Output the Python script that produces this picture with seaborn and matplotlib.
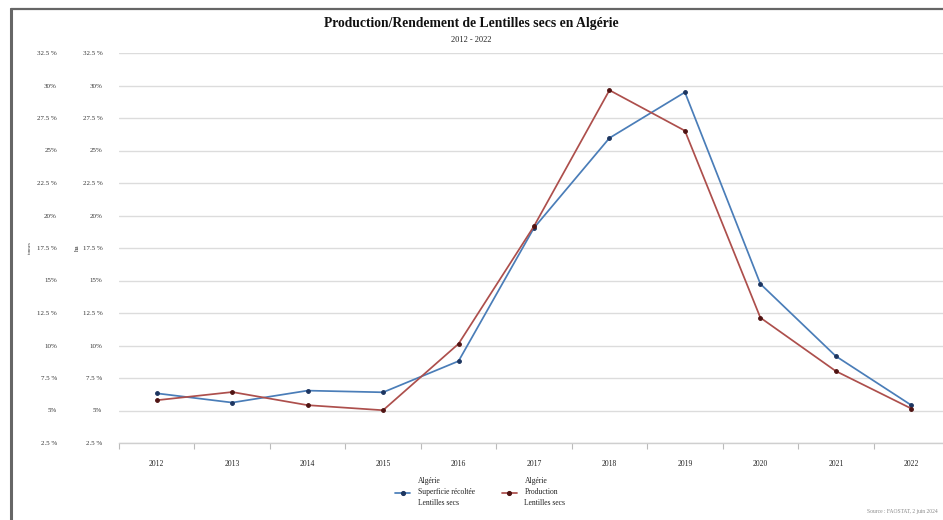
import matplotlib
matplotlib.use("Agg")
import matplotlib.pyplot as plt
from matplotlib.lines import Line2D
import seaborn as sns
import pandas as pd
import numpy as np

# Data
years = ["2012", "2013", "2014", "2015", "2016", "2017", "2018", "2019", "2020", "2021", "2022"]
superficie = [6.32, 5.61, 6.53, 6.40, 8.80, 19.05, 25.96, 29.48, 14.74, 9.18, 5.41]
production = [5.79, 6.42, 5.41, 5.02, 10.13, 19.18, 29.64, 26.52, 12.14, 8.03, 5.15]
y_ticks = [2.5, 5, 7.5, 10, 12.5, 15, 17.5, 20, 22.5, 25, 27.5, 30, 32.5]
series_names = ["Algérie\nSuperficie récoltée\nLentilles secs",
                "Algérie\nProduction\nLentilles secs"]

sns.set_theme(style="white")
plt.rcParams["font.family"] = ["Liberation Serif", "DejaVu Serif"]

df = pd.DataFrame({
    "pos": list(range(len(years))) * 2,
    "valeur": superficie + production,
    "serie": [series_names[0]] * len(years) + [series_names[1]] * len(years),
})

line_colors = ["#4a7db8", "#ad4f4c"]
dot_colors = ["#1c3560", "#4f1312"]

fig = plt.figure(figsize=(9.43, 5.20), dpi=100)
ax = fig.add_axes([119 / 943, 77 / 520, 830 / 943, 390 / 520])

sns.lineplot(data=df, x="pos", y="valeur", hue="serie", palette=line_colors,
             ax=ax, linewidth=1.25, legend=False, sort=False)

lines = ax.get_lines()
for ln, dc in zip(lines, dot_colors):
    ln.set_marker("o")
    ln.set_markersize(2.7)
    ln.set_markerfacecolor(dc)
    ln.set_markeredgecolor(dc)

# Axes limits and grid
ax.set_ylim(2.5, 32.5)
ax.set_xlim(-0.5, len(years) - 0.5)
ax.set_yticks(y_ticks)

def pct(v):
    return f"{v:g} %" if v != int(v) else f"{v:g}%"

ax.set_yticklabels([pct(v) for v in y_ticks])
ax.tick_params(axis="y", length=0, pad=12, labelsize=5, labelcolor="#333333")
ax.grid(axis="y", color="#dcdcdc", linewidth=1.0)
ax.set_axisbelow(True)

# Category ticks between years, labels at the centres
ax.set_xticks(np.arange(-0.5, len(years), 1.0))
ax.set_xticklabels([])
ax.set_xticks(range(len(years)), minor=True)
ax.set_xticklabels(years, minor=True)
ax.tick_params(axis="x", which="major", length=4, width=0.8, color="#bbbbbb", direction="out", bottom=True)
ax.tick_params(axis="x", which="minor", length=0, pad=12, labelsize=5.5, labelcolor="#222222")

for side in ["top", "right", "left"]:
    ax.spines[side].set_visible(False)
ax.spines["bottom"].set_color("#cfcfcf")
ax.spines["bottom"].set_linewidth(1.0)

ax.set_xlabel("")
ax.set_ylabel("ha", fontsize=5, labelpad=2, color="#333333")

# Outer scale (tonnes)
sec = ax.secondary_yaxis(-62 / 830)
sec.set_yticks(y_ticks)
sec.set_yticklabels([pct(v) for v in y_ticks])
sec.tick_params(axis="y", length=0, pad=0, labelsize=5, labelcolor="#333333")
sec.spines["left"].set_visible(False)
sec.set_ylabel("tonnes", fontsize=3.5, labelpad=4, color="#333333")

# Title
fig.text(0.5, 1 - 23 / 520, "Production/Rendement de Lentilles secs en Algérie",
         ha="center", va="center", fontsize=9.8, fontweight="bold", color="#111111")
fig.text(0.5, 1 - 40 / 520, "2012 - 2022", ha="center", va="center",
         fontsize=6, color="#222222")

# Legend
handles = [Line2D([0], [0], color=c, lw=1.25, marker="o", markersize=2.7,
                  markerfacecolor=d, markeredgecolor=d)
           for c, d in zip(line_colors, dot_colors)]
leg = fig.legend(handles, series_names, loc="upper left",
                 bbox_to_anchor=(388 / 943, 1 - 470 / 520), ncol=2, frameon=False,
                 fontsize=5.5, handlelength=2.0, columnspacing=3.5, handletextpad=1.0,
                 labelcolor="#222222")
for t in leg.get_texts():
    t.set_linespacing(1.55)

# Source
fig.text(1 - 5 / 943, 1 - 511 / 520, "Source : FAOSTAT, 2 juin 2024",
         ha="right", va="center", fontsize=4, color="#888888")

# Outer frame (left and top edges)
fig.add_artist(Line2D([11 / 943, 11 / 943], [0, 1 - 9 / 520], color="#666666", lw=2.2,
                      transform=fig.transFigure))
fig.add_artist(Line2D([11 / 943, 1], [1 - 9 / 520, 1 - 9 / 520], color="#666666", lw=1.6,
                      transform=fig.transFigure))

fig.savefig("out.png", dpi=100)
